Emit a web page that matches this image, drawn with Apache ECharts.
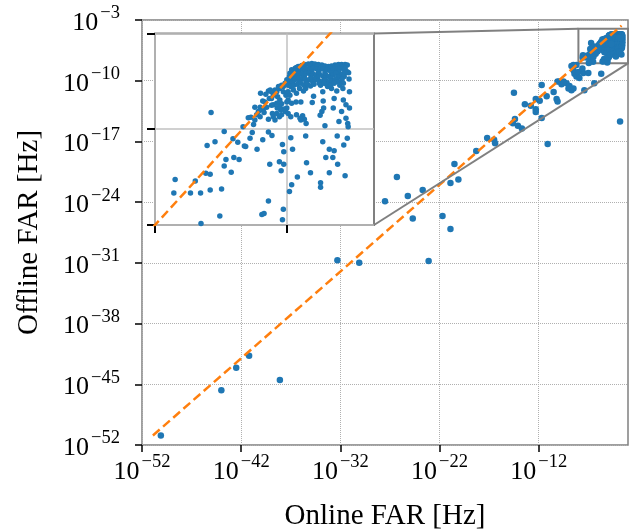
<!DOCTYPE html>
<html>
<head>
<meta charset="utf-8">
<script src="https://cdn.jsdelivr.net/npm/echarts@6/dist/echarts.min.js"></script>
<style>
  html, body { margin: 0; padding: 0; background: #fff; }
  #chart { width: 634px; height: 529px; }
</style>
</head>
<body>
<div id="chart"></div>
<script>
// all values are log10 of the FAR in Hz, as [online, offline]
const loudEvents = [
  [-50.1, -50.9], [-44.0, -45.7], [-42.5, -43.1], [-41.2, -41.7], [-38.1, -44.5],
  [-32.3, -30.7], [-30.1, -31.0], [-23.1, -30.8], [-20.9, -27.1],
  [-27.5, -23.9], [-26.3, -21.1], [-25.2, -23.3], [-24.7, -25.9], [-23.7, -22.6],
  [-21.7, -25.6], [-20.9, -21.8], [-20.5, -19.6], [-20.1, -21.4], [-18.3, -18.1],
  [-17.2, -16.6], [-16.5, -16.8], [-16.4, -17.2], [-14.5, -11.4], [-14.4, -14.4],
  [-14.6, -14.9], [-14.1, -15.2], [-13.7, -15.5], [-13.4, -12.7], [-12.8, -12.9],
  [-12.3, -12.1], [-12.3, -13.3], [-12.3, -13.6], [-11.9, -12.3], [-11.7, -10.5],
  [-11.7, -14.3], [-11.2, -11.8], [-11.1, -17.3], [-10.5, -11.3], [-10.2, -12.1],
  [-10.1, -12.4], [-10.1, -10.1], [-9.9, -10.1], [-9.7, -10.4], [-9.5, -10.1],
  [-9.2, -10.3], [-9.0, -10.9], [-8.9, -10.6], [-8.7, -11.1], [-8.5, -10.9],
  [-8.7, -8.3], [-8.5, -8.8], [-8.4, -9.2], [-8.2, -9.5], [-8.0, -9.0],
  [-7.9, -9.7], [-7.5, -9.1], [-7.4, -11.1], [-5.7, -9.2], [-3.8, -14.7],
  [-8.2, -8.2], [-8.5, -8.2], [-7.6, -8.6], [-7.0, -9.1], [-6.4, -10.3]
];

const clusterEvents = [
  // scattered ones
  [-6.72, -5.65], [-7.54, -7.05], [-7.57, -7.33], [-7.19, -7.33], [-7.08, -7.08],
  [-6.96, -7.33], [-6.84, -6.92], [-6.74, -6.94], [-6.74, -7.27], [-6.48, -7.25],
  [-6.52, -7.81], [-6.95, -7.97], [-6.81, -6.34], [-6.63, -6.26], [-6.42, -6.05],
  [-6.38, -6.63], [-6.42, -6.77], [-6.26, -6.90], [-6.20, -6.59], [-6.08, -6.63],
  [-6.22, -6.20], [-6.11, -6.27], [-5.96, -6.35], [-5.93, -6.36], [-5.99, -5.95],
  [-5.87, -5.76], [-5.75, -5.90], [-5.78, -6.07], [-5.83, -6.19], [-5.67, -6.42],
  [-5.54, -6.22], [-5.41, -6.06], [-5.38, -6.73], [-5.33, -6.13], [-5.56, -7.78],
  [-5.51, -7.76], [-5.41, -7.50], [-5.16, -6.68], [-5.09, -6.32], [-5.06, -6.47],
  [-5.06, -6.73], [-5.12, -6.87], [-5.07, -7.67], [-5.09, -7.89], [-4.90, -6.18],
  [-4.86, -6.42], [-4.88, -7.16], [-4.93, -7.30], [-4.75, -7.00], [-4.54, -6.70],
  [-4.56, -6.14], [-4.45, -6.91], [-4.22, -7.12], [-4.22, -7.21], [-4.17, -6.26],
  [-4.10, -6.59], [-4.02, -6.42], [-4.02, -6.91], [-3.94, -6.59], [-3.91, -6.45],
  [-3.84, -6.14], [-3.83, -6.73], [-3.69, -6.33], [-3.66, -6.97], [-3.61, -6.19],
  [-4.12, -5.93], [-4.55, -5.88], [-4.59, -5.79], [-4.67, -5.81], [-4.63, -5.72],
  [-4.23, -5.71], [-4.19, -5.63], [-4.15, -5.56], [-3.93, -5.56], [-3.80, -5.84],
  [-3.74, -5.63], [-3.64, -5.77], [-3.60, -5.88], [-3.59, -5.95], [-3.64, -5.49],
  [-3.70, -5.39], [-3.56, -5.56], [-3.56, -5.22], [-3.57, -4.95], [-3.58, -4.82],
  [-3.71, -5.15], [-3.85, -5.20], [-3.91, -5.36], [-3.97, -5.15], [-4.06, -5.11],
  [-4.17, -5.22], [-4.16, -5.41], [-4.38, -5.31], [-4.41, -5.44], [-4.56, -5.15],
  [-4.61, -5.20], [-4.67, -5.43], [-4.78, -5.43], [-4.88, -5.46], [-4.96, -5.39],
  [-4.99, -5.56], [-5.05, -5.58], [-5.11, -5.47], [-5.15, -5.39], [-5.20, -5.32],
  [-5.26, -5.18], [-5.34, -5.22], [-5.41, -5.20], [-5.39, -5.36], [-5.49, -5.43],
  [-5.54, -5.41], [-5.60, -5.54], [-5.64, -5.63], [-5.72, -5.54], [-5.81, -5.75],
  [-5.51, -5.65], [-5.41, -5.79], [-5.32, -5.67], [-5.26, -5.81], [-5.16, -5.74],
  [-5.13, -5.60], [-5.21, -5.56], [-5.30, -5.49], [-5.47, -5.27], [-5.59, -5.25],
  // the dense blob at the top
  [-4.88, -4.76], [-4.80, -4.73], [-4.73, -4.69], [-4.65, -4.67], [-4.58, -4.65],
  [-4.50, -4.64], [-4.42, -4.63], [-4.35, -4.64], [-4.27, -4.65], [-4.19, -4.66],
  [-4.12, -4.68], [-4.04, -4.69], [-3.97, -4.68], [-3.89, -4.66], [-3.81, -4.65],
  [-3.74, -4.65], [-3.66, -4.65], [-3.61, -4.66],
  [-4.77, -4.71], [-4.61, -4.69], [-4.46, -4.68], [-4.31, -4.69], [-4.16, -4.69],
  [-4.00, -4.73], [-3.85, -4.69], [-3.70, -4.71],
  [-4.92, -4.83], [-4.84, -4.80], [-4.77, -4.78], [-4.69, -4.76], [-4.61, -4.75],
  [-4.54, -4.74], [-4.46, -4.74], [-4.39, -4.73], [-4.31, -4.74], [-4.23, -4.75],
  [-4.16, -4.74], [-4.08, -4.76], [-4.00, -4.78], [-3.93, -4.76], [-3.85, -4.75],
  [-3.78, -4.74], [-3.68, -4.76], [-3.61, -4.80],
  [-4.88, -4.82], [-4.73, -4.82], [-4.58, -4.80], [-4.42, -4.80], [-4.27, -4.81],
  [-4.12, -4.82], [-3.97, -4.82], [-3.81, -4.81], [-3.66, -4.73],
  [-4.93, -4.90], [-4.86, -4.89], [-4.78, -4.87], [-4.70, -4.85], [-4.63, -4.85],
  [-4.55, -4.83], [-4.48, -4.83], [-4.40, -4.85], [-4.32, -4.87], [-4.25, -4.85],
  [-4.17, -4.89], [-4.10, -4.87], [-4.02, -4.90], [-3.94, -4.87], [-3.87, -4.83],
  [-3.79, -4.89], [-3.72, -4.85], [-3.65, -4.82],
  [-4.89, -4.94], [-4.74, -4.90], [-4.59, -4.89], [-4.44, -4.89], [-4.29, -4.92],
  [-4.13, -4.94], [-3.98, -4.94], [-3.83, -4.92], [-3.68, -4.90],
  [-4.95, -5.01], [-4.87, -4.99], [-4.80, -4.96], [-4.72, -4.94], [-4.64, -4.94],
  [-4.57, -4.96], [-4.49, -4.97], [-4.42, -4.94], [-4.34, -4.96], [-4.26, -4.99],
  [-4.19, -5.01], [-4.11, -4.97], [-4.03, -5.01], [-3.96, -4.99], [-3.88, -4.96],
  [-3.81, -5.01], [-3.73, -4.96],
  [-4.86, -5.04], [-4.70, -5.01], [-4.55, -5.03], [-4.40, -5.01], [-4.25, -5.04],
  [-4.08, -5.06], [-3.85, -5.01], [-3.70, -5.04],
  [-4.96, -5.08], [-4.90, -5.11], [-4.83, -5.08], [-4.75, -5.06], [-4.67, -5.04],
  [-4.60, -5.08], [-4.52, -5.06], [-4.45, -5.10], [-4.37, -5.06], [-4.22, -5.08],
  [-4.14, -5.04], [-3.99, -5.08], [-3.91, -5.04], [-3.78, -5.08],
  // tail of the blob down along the diagonal
  [-4.99, -4.97], [-5.03, -5.04], [-5.07, -5.11], [-5.11, -5.08], [-5.15, -5.15],
  [-5.18, -5.11], [-5.22, -5.22], [-5.30, -5.29], [-5.34, -5.36], [-5.37, -5.18],
  [-5.07, -5.22], [-5.01, -5.29], [-4.96, -5.22], [-4.84, -5.18], [-4.77, -5.25],
  [-4.70, -5.15], [-4.92, -5.29], [-4.99, -5.43], [-5.15, -5.53], [-5.22, -5.46],
  [-5.34, -5.50], [-5.45, -5.54], [-5.53, -5.60], [-5.60, -5.74], [-5.68, -5.70],
  [-5.72, -5.81], [-5.30, -5.74], [-5.22, -5.67], [-5.11, -5.70], [-5.02, -5.63],
  [-4.96, -5.67], [-4.90, -5.74], [-4.77, -5.70], [-4.69, -5.77]
];

// online == offline
const unityLine = [[-50.9, -50.9], [-3.65, -3.65]];

const xTicks = [-52, -42, -32, -22, -12];
const yTicks = [-52, -45, -38, -31, -24, -17, -10, -3];
const insetXTicks = [-8, -5];
const insetYTicks = [-8, -6, -4];
const zoomX = [-8, -3];
const zoomY = [-8, -4];

const SERIF = '"Liberation Serif", "DejaVu Serif", serif';
const BLUE = '#1f77b4';
const ORANGE = '#ff7f0e';
const EDGE = '#808080';

const powRich = {
  b: { fontFamily: SERIF, fontSize: 26, lineHeight: 32, verticalAlign: 'bottom', color: '#000' },
  s: { fontFamily: SERIF, fontSize: 18.5, lineHeight: 18, verticalAlign: 'top', color: '#000',
       padding: [0, 0, 0, 2] }
};
const powLabel = v => '{b|10}{s|\u2212' + Math.abs(v) + '}';

const chart = echarts.init(document.getElementById('chart'));

const mainTick = { show: true, length: 7, lineStyle: { color: '#000', width: 1.5 } };
const insetTick = { show: true, length: 8, lineStyle: { color: '#000', width: 2 } };
const dotted = { show: true, lineStyle: { color: '#b0b0b0', width: 1, type: 'dotted' } };
const insetGrid = { show: true, lineStyle: { color: '#c0c0c0', width: 1.5 } };

chart.setOption({
  animation: false,
  backgroundColor: '#fff',
  grid: [
    { left: 142, top: 20, right: 6, bottom: 84, containLabel: false, outerBoundsMode: 'none',
      show: true, borderColor: EDGE, borderWidth: 1.5, backgroundColor: '#fff' },
    { left: 155, top: 33.4, width: 219, height: 191.6, containLabel: false, outerBoundsMode: 'none',
      show: true, borderColor: EDGE, borderWidth: 2, backgroundColor: '#fff', z: 10 }
  ],
  xAxis: [
    {
      type: 'value', gridIndex: 0, min: -52, max: -3, interval: 10,
      axisLine: { show: false },
      axisTick: Object.assign({ customValues: xTicks }, mainTick),
      axisLabel: { customValues: xTicks, margin: 8, formatter: powLabel, rich: powRich },
      splitLine: dotted,
      name: 'Online FAR [Hz]', nameLocation: 'middle', nameGap: 57,
      nameTextStyle: { fontFamily: SERIF, fontSize: 29, color: '#000' }
    },
    {
      type: 'value', gridIndex: 1, min: zoomX[0], max: zoomX[1], interval: 3, z: 11,
      axisLine: { show: false },
      axisTick: Object.assign({ customValues: insetXTicks }, insetTick),
      axisLabel: { show: false },
      splitLine: insetGrid
    }
  ],
  yAxis: [
    {
      type: 'value', gridIndex: 0, min: -52, max: -3, interval: 7,
      axisLine: { show: false },
      axisTick: Object.assign({ customValues: yTicks }, mainTick),
      axisLabel: { customValues: yTicks, margin: 22, formatter: powLabel, rich: powRich },
      splitLine: dotted,
      name: 'Offline FAR [Hz]', nameLocation: 'middle', nameGap: 98, nameRotate: 90,
      nameTextStyle: { fontFamily: SERIF, fontSize: 29, color: '#000' }
    },
    {
      type: 'value', gridIndex: 1, min: zoomY[0], max: zoomY[1], interval: 2, z: 11,
      axisLine: { show: false },
      axisTick: Object.assign({ customValues: insetYTicks }, insetTick),
      axisLabel: { show: false },
      splitLine: insetGrid
    }
  ],
  series: [
    // main panel
    {
      type: 'scatter', xAxisIndex: 0, yAxisIndex: 0, data: loudEvents,
      symbolSize: 6.5, itemStyle: { color: BLUE, opacity: 1 },
      markArea: {
        silent: true,
        itemStyle: { color: 'rgba(0,0,0,0)', borderColor: EDGE, borderWidth: 2 },
        data: [[{ coord: [zoomX[0], zoomY[0]] }, { coord: [zoomX[1], zoomY[1]] }]]
      }
    },
    {
      type: 'scatter', xAxisIndex: 0, yAxisIndex: 0, data: clusterEvents,
      symbolSize: 6.5, itemStyle: { color: BLUE, opacity: 1 }
    },
    {
      type: 'line', xAxisIndex: 0, yAxisIndex: 0, data: unityLine, symbol: 'none', z: 3,
      lineStyle: { color: ORANGE, width: 2.5, type: [9, 4.5] }
    },
    // inset
    {
      type: 'scatter', xAxisIndex: 1, yAxisIndex: 1, data: clusterEvents.concat(loudEvents),
      symbolSize: 5.5, clip: true, z: 12, itemStyle: { color: BLUE, opacity: 1 }
    },
    {
      type: 'line', xAxisIndex: 1, yAxisIndex: 1, data: unityLine, symbol: 'none', clip: true, z: 13,
      lineStyle: { color: ORANGE, width: 2.5, type: [9, 4.5] }
    }
  ]
});

// connector lines from the inset to the zoom box
const insetTR = chart.convertToPixel({ gridIndex: 1 }, [zoomX[1], zoomY[1]]);
const insetBR = chart.convertToPixel({ gridIndex: 1 }, [zoomX[1], zoomY[0]]);
const boxTL = chart.convertToPixel({ gridIndex: 0 }, [zoomX[0], zoomY[1]]);
const boxBR = chart.convertToPixel({ gridIndex: 0 }, [zoomX[1], zoomY[0]]);
const link = (a, b) => ({
  type: 'line', z: 20, silent: true,
  shape: { x1: a[0], y1: a[1], x2: b[0], y2: b[1] },
  style: { stroke: EDGE, lineWidth: 2 }
});
chart.setOption({ graphic: [link(insetTR, boxTL), link(insetBR, boxBR)] });
</script>
</body>
</html>
